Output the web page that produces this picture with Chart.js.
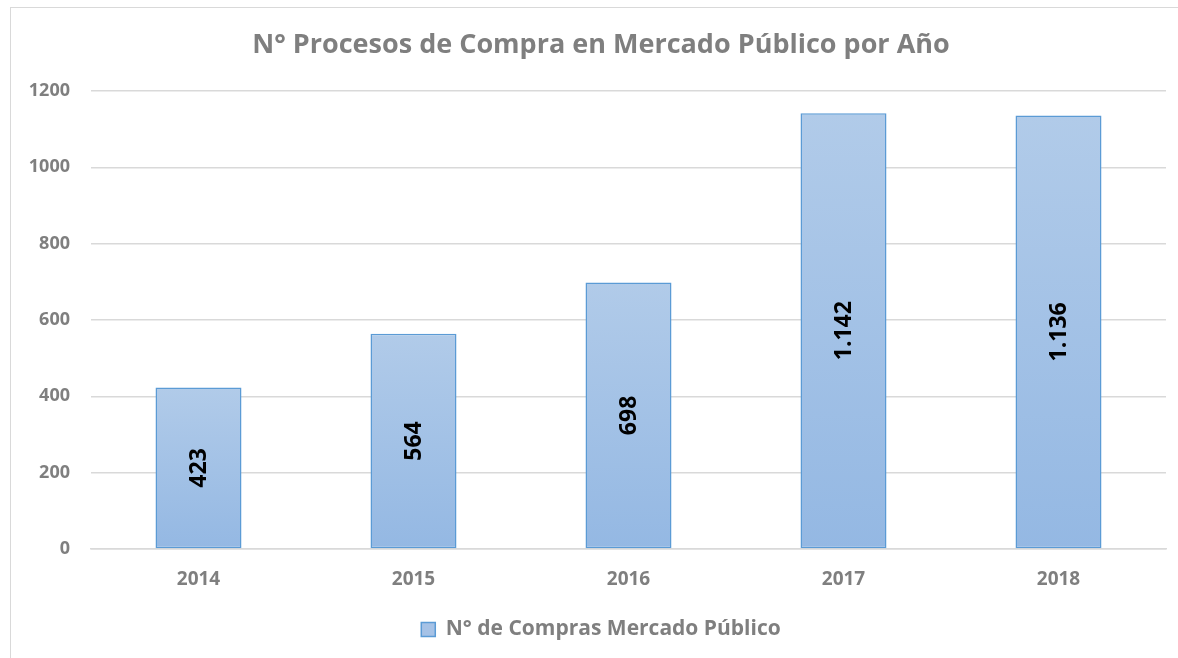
<!DOCTYPE html>
<html>
<head>
<meta charset="utf-8">
<script src="https://cdn.jsdelivr.net/npm/chart.js@4/dist/chart.umd.min.js"></script>
<style>
  html, body { margin: 0; padding: 0; background: #ffffff; }
  #wrap { position: relative; width: 1178px; height: 658px; overflow: hidden; }
  #frame { position: absolute; left: 10px; top: 7px; width: 1200px; height: 700px; border: 1.5px solid #d9d9d9; box-sizing: border-box; }
  canvas { position: absolute; left: 0; top: 0; }
</style>
</head>
<body>
<div id="wrap">
  <div id="frame"></div>
  <canvas id="c" width="1178" height="658"></canvas>
</div>
<script>
const titleText = "N° Procesos de Compra en Mercado Público por Año";
const seriesName = "N° de Compras Mercado Público";
const years = ["2014", "2015", "2016", "2017", "2018"];
const purchases = [423, 564, 698, 1142, 1136];
const yTicks = [0, 200, 400, 600, 800, 1000, 1200];

const FONT = "'Open Sans', 'Noto Sans', sans-serif";
const GRAY = "#7f7f7f";

function fmtThousands(v) {
  return String(v).replace(/\B(?=(\d{3})+(?!\d))/g, ".");
}

function barFill(ctx) {
  const chart = ctx.chart;
  const y = chart.scales && chart.scales.y;
  if (!y || ctx.type !== 'data') return "#a6c2e6";
  const top = y.getPixelForValue(ctx.raw);
  const bottom = y.getPixelForValue(0);
  if (!isFinite(top) || !isFinite(bottom) || top === bottom) return "#a6c2e6";
  const g = chart.ctx.createLinearGradient(0, top, 0, bottom);
  g.addColorStop(0, "#b1cbe9");
  g.addColorStop(1, "#94b8e3");
  return g;
}

const rotatedLabels = {
  id: 'rotatedLabels',
  afterDatasetsDraw(chart) {
    const ctx = chart.ctx;
    const meta = chart.getDatasetMeta(0);
    ctx.save();
    ctx.fillStyle = "#000000";
    ctx.font = "bold 23px " + FONT;
    ctx.textAlign = "center";
    ctx.textBaseline = "middle";
    meta.data.forEach((bar, i) => {
      const cx = bar.x;
      const cy = (bar.y + bar.base) / 2;
      ctx.save();
      ctx.translate(cx, cy);
      ctx.rotate(-Math.PI / 2);
      ctx.fillText(fmtThousands(purchases[i]), 0, 1);
      ctx.restore();
    });
    ctx.restore();
  }
};

// The original chart frame is wider than the visible picture, so its title
// and legend are centred a little to the right of the canvas centre.
const shiftCentred = {
  id: 'shiftCentred',
  afterLayout(chart) {
    const dx = 18;
    [chart.titleBlock, chart.legend].forEach(b => {
      if (b) { b.left += dx; b.right += dx; }
    });
  }
};

new Chart(document.getElementById('c'), {
  type: 'bar',
  data: {
    labels: years,
    datasets: [{
      label: seriesName,
      data: purchases,
      backgroundColor: barFill,
      borderColor: "#5b9bd5",
      borderWidth: 1.5,
      borderSkipped: false,
      categoryPercentage: 1.0,
      barPercentage: 0.4
    }]
  },
  options: {
    responsive: false,
    animation: false,
    layout: { padding: { left: 0, right: 12, top: 0, bottom: 8 } },
    plugins: {
      title: {
        display: true,
        text: titleText,
        color: GRAY,
        font: { family: FONT, size: 27, weight: 'bold' },
        padding: { top: 29, bottom: 29.6 }
      },
      legend: {
        position: 'bottom',
        labels: {
          color: GRAY,
          font: { family: FONT, size: 21, weight: 'bold' },
          boxWidth: 14,
          boxHeight: 14,
          padding: 10,
          generateLabels(chart) {
            return [{
              text: seriesName,
              fillStyle: "#a6c2e6",
              strokeStyle: "#5b9bd5",
              lineWidth: 1.5,
              fontColor: GRAY,
              datasetIndex: 0
            }];
          }
        }
      },
      tooltip: { enabled: false }
    },
    scales: {
      x: {
        grid: { display: false, drawTicks: false },
        border: { display: true, color: "#d9d9d9", width: 1.5 },
        ticks: { color: GRAY, font: { family: FONT, size: 19, weight: 'bold' }, padding: 19 },
        afterFit(scale) { scale.height = 60; }
      },
      y: {
        min: 0,
        max: 1200,
        afterBuildTicks(scale) { scale.ticks = yTicks.map(v => ({ value: v })); },
        grid: { color: "#d9d9d9", lineWidth: 1.5, drawTicks: false },
        border: { display: false },
        ticks: {
          color: GRAY,
          font: { family: FONT, size: 18, weight: 'bold' },
          padding: 21,
          callback: v => String(v)
        },
        afterFit(scale) { scale.width = 91; }
      }
    }
  },
  plugins: [rotatedLabels, shiftCentred]
});
</script>
</body>
</html>
